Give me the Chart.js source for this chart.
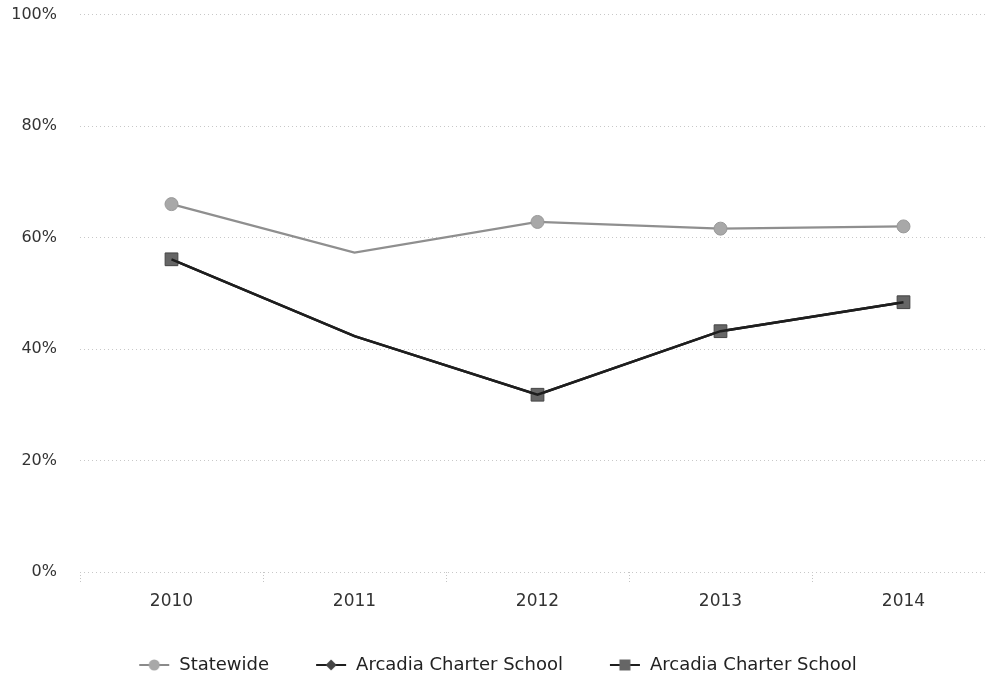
<!DOCTYPE html>
<html>
<head>
<meta charset="utf-8">
<script src="https://cdn.jsdelivr.net/npm/chart.js@4/dist/chart.umd.min.js"></script>
<style>
  html, body { margin: 0; padding: 0; background: #fff; overflow: hidden; }
  #wrap { position: relative; width: 1005px; height: 696px; margin-top: -18px; }
</style>
</head>
<body>
<div id="wrap"><canvas id="c"></canvas></div>
<script>
const years = ['2010', '2011', '2012', '2013', '2014'];
const seriesNames = ['Statewide', 'Arcadia Charter School', 'Arcadia Charter School'];
const statewide = [66.0, 57.3, 62.8, 61.6, 62.0];
const arcadiaLine = [56.1, 42.3, 31.8, 43.2, 48.4];
const arcadiaSquare = [56.1, 42.3, 31.8, 43.2, 48.4];
const yTicks = [0, 20, 40, 60, 80, 100];

function legendIcon(style, lineColor, fill) {
  const cv = document.createElement('canvas');
  cv.width = 32; cv.height = 14;
  const g = cv.getContext('2d');
  g.strokeStyle = lineColor; g.lineWidth = 2;
  g.beginPath(); g.moveTo(1, 7); g.lineTo(31, 7); g.stroke();
  g.fillStyle = fill; g.strokeStyle = fill; g.lineWidth = 1;
  g.beginPath();
  if (style === 'circle') { g.arc(16, 7, 5.5, 0, Math.PI * 2); }
  else if (style === 'diamond') { g.moveTo(16, 1.5); g.lineTo(21.5, 7); g.lineTo(16, 12.5); g.lineTo(10.5, 7); g.closePath(); }
  else { g.rect(10.5, 1.5, 11, 11); }
  g.fill();
  return cv;
}
const icons = [
  legendIcon('circle', '#8a8a8a', '#a8a8a8'),
  legendIcon('diamond', '#1e1e1e', '#444'),
  legendIcon('rect', '#1e1e1e', '#666')
];

const hide2011 = r => years.map(y => (y === '2011' ? 0 : r));

new Chart(document.getElementById('c'), {
  type: 'line',
  data: {
    labels: years,
    datasets: [
      {
        label: seriesNames[0], data: statewide,
        borderColor: '#8f8f8f', borderWidth: 2.2, tension: 0,
        pointStyle: 'circle', pointRadius: hide2011(6.5),
        pointBackgroundColor: '#a8a8a8', pointBorderColor: '#999', pointBorderWidth: 1
      },
      {
        label: seriesNames[1], data: arcadiaLine,
        borderColor: '#1e1e1e', borderWidth: 2.4, tension: 0,
        pointStyle: 'rectRot', pointRadius: 0
      },
      {
        label: seriesNames[2], data: arcadiaSquare,
        borderColor: '#1e1e1e', borderWidth: 2.4, tension: 0,
        pointStyle: 'rect', pointRadius: hide2011(9),
        pointBackgroundColor: '#666', pointBorderColor: '#444', pointBorderWidth: 1
      }
    ]
  },
  options: {
    responsive: true,
    maintainAspectRatio: false,
    animation: false,
    layout: { padding: { top: 0, right: 10, bottom: -6, left: 0 } },
    plugins: {
      tooltip: { enabled: false },
      legend: {
        position: 'bottom',
        labels: {
          usePointStyle: true,
          pointStyleWidth: 32,
          padding: 46,
          color: '#222',
          font: { family: 'DejaVu Sans', size: 18 },
          generateLabels(chart) {
            return chart.data.datasets.map((ds, i) => ({
              text: ds.label,
              pointStyle: icons[i],
              fillStyle: '#000', strokeStyle: '#000', lineWidth: 0,
              fontColor: '#222',
              hidden: false, datasetIndex: i
            }));
          }
        }
      }
    },
    scales: {
      x: {
        offset: true,
        afterFit(scale) { scale.height = 38; },
        grid: {
          offset: true, drawOnChartArea: false, drawTicks: true, tickLength: 11,
          tickColor: '#c4c4c4', tickWidth: 1, tickBorderDash: [1, 2]
        },
        border: { display: false },
        ticks: { color: '#333', padding: 8, font: { family: 'DejaVu Sans', size: 17 } }
      },
      y: {
        min: 0, max: 100,
        afterBuildTicks(scale) { scale.ticks = yTicks.map(v => ({ value: v })); },
        afterFit(scale) { scale.width = 80; },
        grid: { color: '#c8c8c8', lineWidth: 1, drawTicks: false },
        border: { display: false, dash: [1, 3] },
        ticks: {
          color: '#333', padding: 23,
          font: { family: 'DejaVu Sans', size: 16 },
          callback: v => v + '%'
        }
      }
    }
  }
});
</script>
</body>
</html>
